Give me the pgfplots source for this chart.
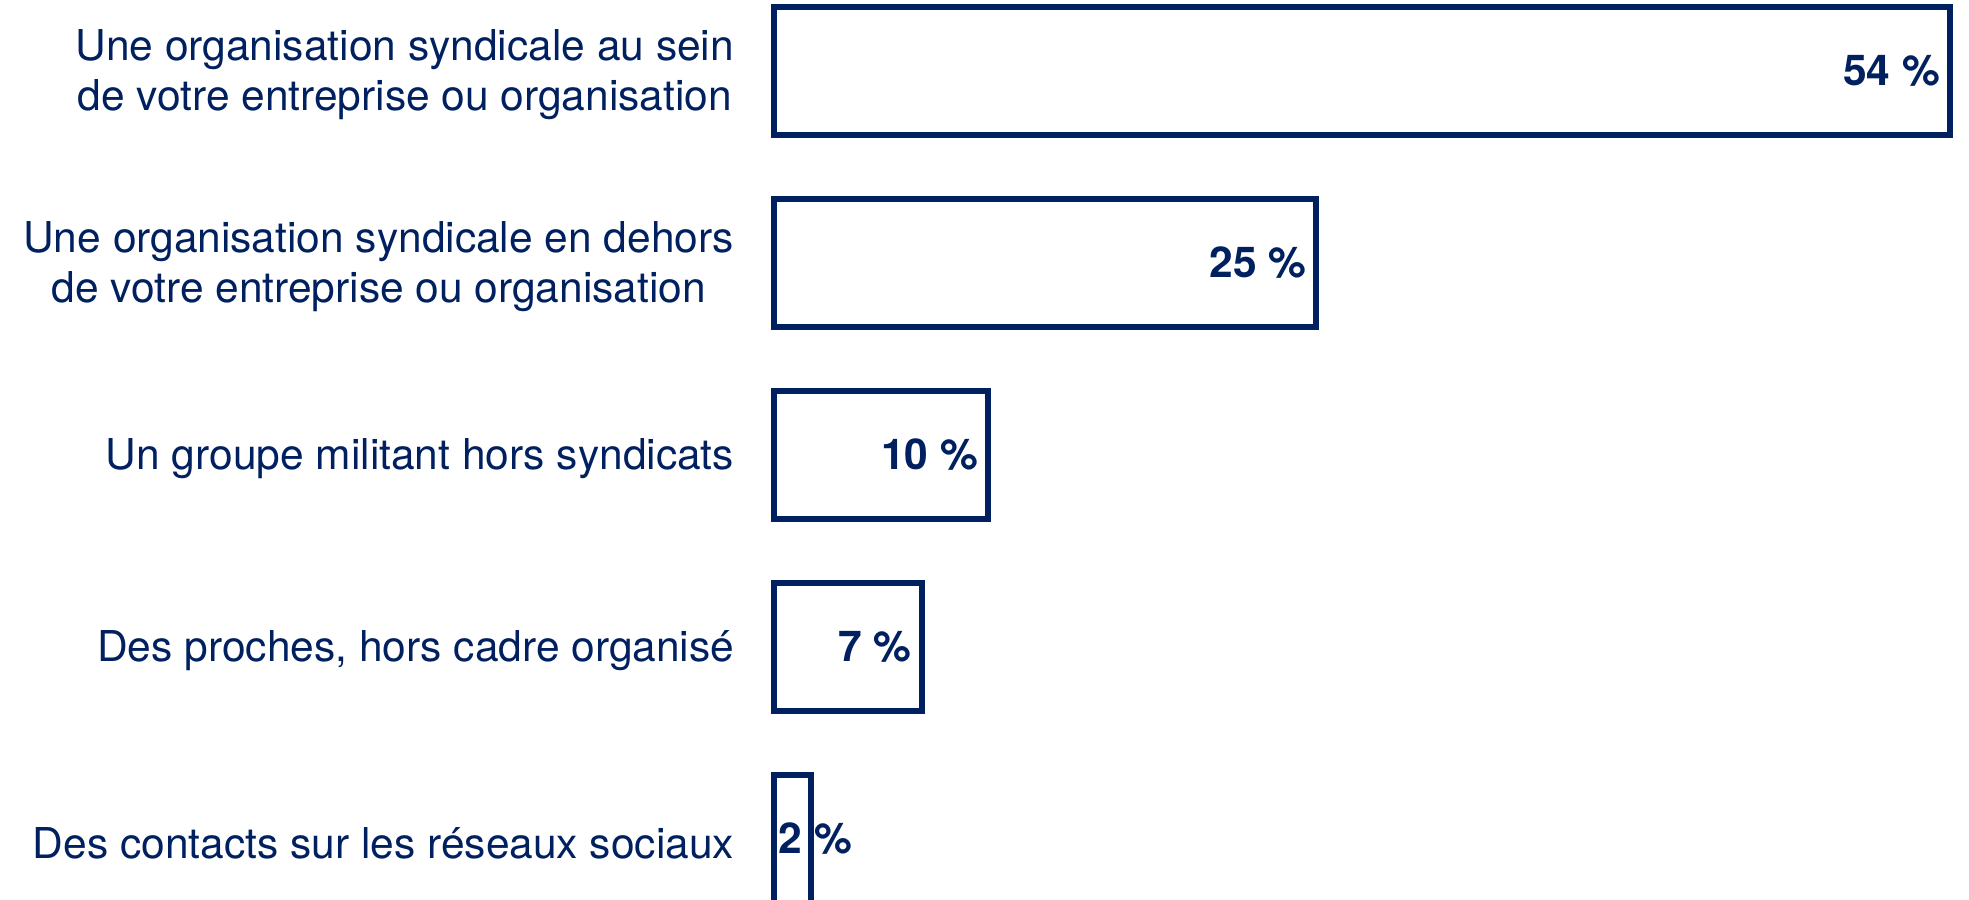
\documentclass[border=0pt]{standalone}
\usepackage{fontspec}
\setmainfont{TeX Gyre Heros}
\usepackage{pgfplots}
\pgfplotsset{compat=1.18}
\definecolor{navy}{HTML}{002060}
\begin{document}
\begin{tikzpicture}
\begin{axis}[
  at={(381.5pt,0pt)}, anchor=south west,
  scale only axis, width=603pt, height=449.5pt,
  xmin=-0.5, xmax=54.87, ymin=-0.3125, ymax=4.370,
  xbar, bar width=64pt, bar shift=0pt,
  axis line style={draw=none},
  major tick style={draw=none},
  xtick=\empty,
  ytick={0,1,2,3,4},
  yticklabels={
    Des contacts sur les réseaux sociaux,
    {Des proches, hors cadre organisé},
    Un groupe militant hors syndicats,
    {Une organisation syndicale en dehors\\de votre entreprise ou organisation},
    {Une organisation syndicale au sein\\de votre entreprise ou organisation}},
  yticklabel style={align=center, font=\fontsize{21.25}{25}\selectfont, text=navy, inner sep=0pt, anchor=east, xshift=-10pt, yshift=-2pt},
]
\addplot[draw=navy, fill=white, line width=3pt,
  point meta=explicit symbolic, nodes near coords,
  nodes near coords align={anchor=east},
  every node near coord/.append style={anchor=east, xshift=-3.5pt, inner sep=0pt, font=\bfseries\fontsize{21.25}{24}\selectfont, text=navy}]
  coordinates {(54,4) [54 \%] (24.9,3) [25 \%] (9.84,2) [10 \%] (6.78,1) [7 \%]};
\addplot[draw=navy, fill=white, line width=3pt,
  point meta=explicit symbolic, nodes near coords,
  nodes near coords align={anchor=center},
  every node near coord/.append style={anchor=center, xshift=2pt, inner sep=0pt, font=\bfseries\fontsize{21.25}{24}\selectfont, text=navy}]
  coordinates {(1.72,0) [2 \%]};
\end{axis}
\pgfresetboundingbox
\path[use as bounding box] (0,0) rectangle (984.5pt,449.5pt);
\end{tikzpicture}
\end{document}
